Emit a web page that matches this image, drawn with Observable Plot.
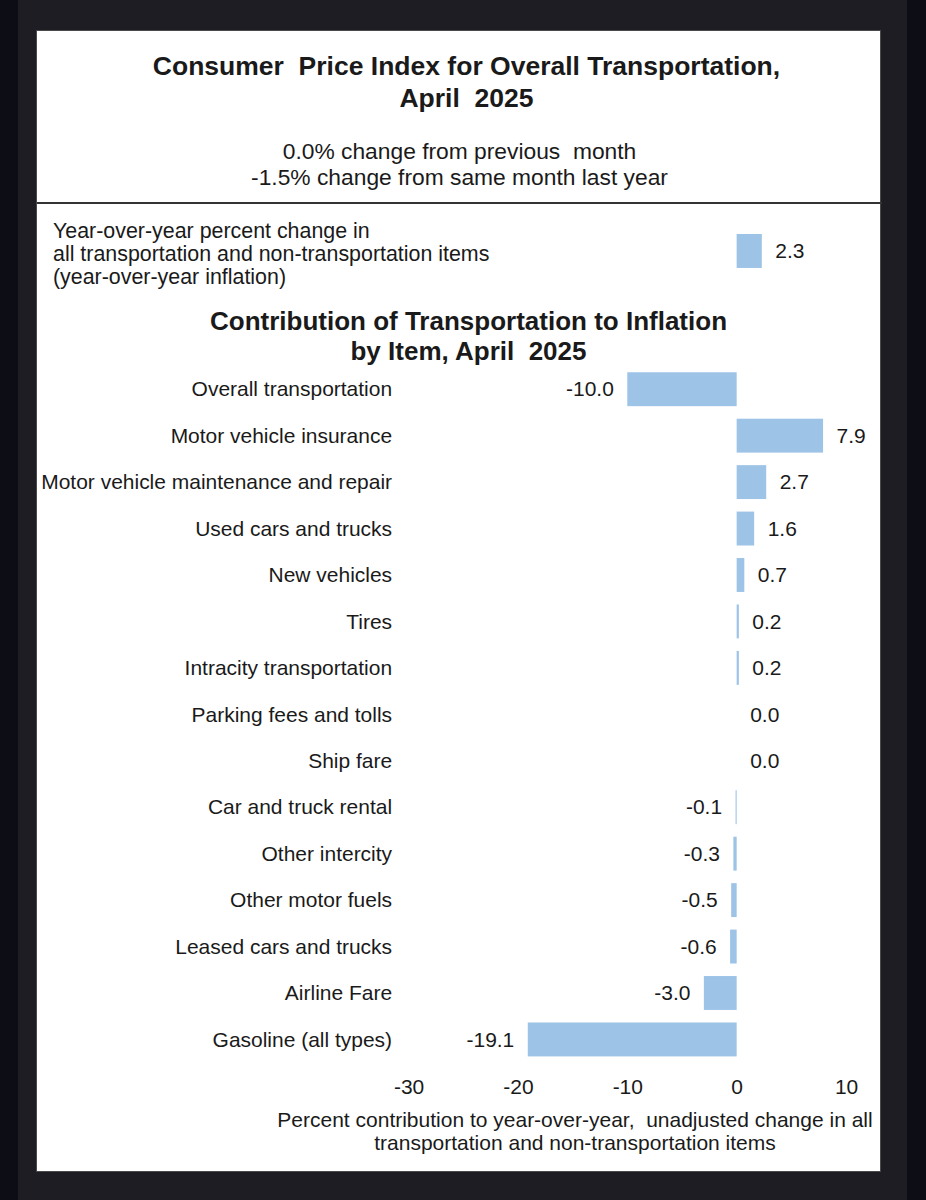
<!DOCTYPE html>
<html>
<head>
<meta charset="utf-8">
<script src="https://cdn.jsdelivr.net/npm/d3@7"></script>
<script src="https://cdn.jsdelivr.net/npm/@observablehq/plot@0.6"></script>
<style>
  html, body { margin: 0; padding: 0; }
  body { width: 926px; height: 1200px; background: #1e1d24; position: relative; overflow: hidden;
         font-family: "Liberation Sans", Arial, sans-serif; color: #1a1a1a; }
  .strip { position: absolute; top: 0; height: 1200px; background: #0d0d15; }
  #panel { position: absolute; left: 36px; top: 30px; width: 843px; height: 1140px; background: #fff;
           border: 1px solid #4a4a4a; }
  .abs { position: absolute; white-space: nowrap; }
  .title { left: 0; width: 845px; text-align: center; font-weight: bold; font-size: 26.5px; line-height: 32px; top: 19px; padding-left: 14px; box-sizing: border-box; }
  .sub { left: 0; width: 845px; text-align: center; font-size: 22.8px; line-height: 26px; top: 107px; }
  .rule { left: 0; width: 845px; top: 171px; height: 2px; background: #333; }
  .yoy { left: 16px; top: 189px; font-size: 21.4px; line-height: 23px; }
  .h2 { left: 0; width: 845px; text-align: center; font-weight: bold; font-size: 26px; line-height: 30px; top: 275px; padding-left: 18px; box-sizing: border-box; }
  .cap { left: 238px; width: 600px; text-align: center; font-size: 21px; line-height: 23px; top: 1077px; }
  svg text { fill: #1a1a1a; }
</style>
</head>
<body>
<div class="strip" style="left:0;width:18px"></div>
<div class="strip" style="left:907px;width:19px"></div>
<div id="panel">
  <div class="abs title">Consumer&nbsp; Price Index for Overall Transportation,<br>April&nbsp; 2025</div>
  <div class="abs sub">0.0% change from previous&nbsp; month<br>-1.5% change from same month last year</div>
  <div class="abs rule"></div>
  <div class="abs yoy">Year-over-year percent change in<br>all transportation and non-transportation items<br>(year-over-year inflation)</div>
  <div id="top" class="abs" style="left:-1px;top:195px"></div>
  <div class="abs h2">Contribution of Transportation to Inflation<br>by Item, April&nbsp; 2025</div>
  <div id="main" class="abs" style="left:-1px;top:324px"></div>
  <div class="abs cap">Percent contribution to year-over-year,&nbsp; unadjusted change in all<br>transportation and non-transportation items</div>
</div>
<script>
// ---- data ----
const items = [
  "Overall transportation",
  "Motor vehicle insurance",
  "Motor vehicle maintenance and repair",
  "Used cars and trucks",
  "New vehicles",
  "Tires",
  "Intracity transportation",
  "Parking fees and tolls",
  "Ship fare",
  "Car and truck rental",
  "Other intercity",
  "Other motor fuels",
  "Leased cars and trucks",
  "Airline Fare",
  "Gasoline (all types)"
];
const contributions = [-10.0, 7.9, 2.7, 1.6, 0.7, 0.2, 0.2, 0.0, 0.0, -0.1, -0.3, -0.5, -0.6, -3.0, -19.1];
const allItemsLabel = ["All items"];
const allItemsValue = [2.3];
const xTicks = [-30, -20, -10, 0, 10];

const data = items.map((item, i) => ({item, value: contributions[i]}));
const topData = allItemsLabel.map((item, i) => ({item, value: allItemsValue[i]}));

const barColor = "#9dc3e6";
const W = 845, ML = 373, MR = 34;
const fontFamily = '"Liberation Sans", Arial, sans-serif';

// ---- top single bar ----
const topPlot = Plot.plot({
  width: W, height: 50,
  marginLeft: ML, marginRight: MR, marginTop: 8, marginBottom: 8,
  style: {fontFamily, fontSize: "21px", background: "transparent"},
  x: {domain: [-30, 10], axis: null},
  marks: [
    Plot.barX(topData, {x1: 0, x2: "value", fill: barColor}),
    Plot.text(topData, {x: "value", text: d => d.value.toFixed(1), textAnchor: "start", dx: 13, fontSize: 21})
  ]
});
document.getElementById("top").appendChild(topPlot);

// ---- main chart ----
const mainPlot = Plot.plot({
  width: W, height: 750,
  marginLeft: ML, marginRight: MR, marginTop: 11, marginBottom: 41.5,
  style: {fontFamily, fontSize: "21px", background: "transparent"},
  x: {domain: [-30, 10], ticks: xTicks, tickFormat: d => String(d), tickSize: 0, tickPadding: 16, label: null},
  y: {domain: items, paddingInner: 0.27, paddingOuter: 0.135, round: false, tickSize: 0, tickPadding: 17, label: null},
  marks: [
    Plot.barX(data, {x1: 0, x2: "value", y: "item", fill: barColor}),
    Plot.text(data.filter(d => d.value >= 0), {x: "value", y: "item", text: d => d.value.toFixed(1), textAnchor: "start", dx: 13, fontSize: 21}),
    Plot.text(data.filter(d => d.value < 0), {x: "value", y: "item", text: d => d.value.toFixed(1), textAnchor: "end", dx: -14, fontSize: 21})
  ]
});
document.getElementById("main").appendChild(mainPlot);
</script>
</body>
</html>
